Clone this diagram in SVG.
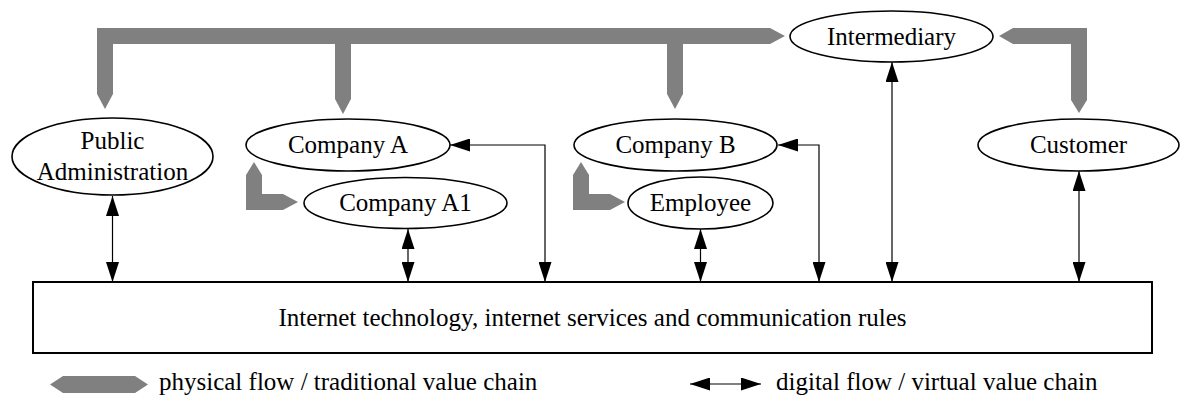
<svg xmlns="http://www.w3.org/2000/svg" width="1180" height="395" viewBox="0 0 1180 395">
<defs>
<marker id="ah" markerUnits="userSpaceOnUse" markerWidth="20" markerHeight="13" refX="20" refY="6.5" orient="auto-start-reverse">
<path d="M0,0 L20,6.5 L0,13 z" fill="#000"/>
</marker>
<style>
.node{fill:#fff;stroke:#000;stroke-width:1.6}
.t{font-family:"Liberation Serif","Times New Roman",serif;font-size:25px;fill:#000;text-anchor:middle}
.lt{font-family:"Liberation Serif","Times New Roman",serif;font-size:25px;fill:#000}
.g{fill:#808080;stroke:none}
.c{fill:none;stroke:#000;stroke-width:1.2;marker-start:url(#ah);marker-end:url(#ah)}
</style>
</defs>
<g id="physical-flows">
<rect class="g" x="97" y="28" width="673" height="16"/>
<polygon class="g" points="770,28 785,36 770,44"/>
<rect class="g" x="97" y="28" width="16" height="66"/>
<polygon class="g" points="97,94 113,94 105,109"/>
<rect class="g" x="335" y="28" width="16" height="71"/>
<polygon class="g" points="335,99 351,99 343,114"/>
<rect class="g" x="667" y="28" width="16" height="66"/>
<polygon class="g" points="667,94 683,94 675,109"/>
<rect class="g" x="1013" y="28" width="74" height="16"/>
<polygon class="g" points="1013,28 1013,44 999,36"/>
<rect class="g" x="1071" y="28" width="16" height="72"/>
<polygon class="g" points="1071,100 1087,100 1079,113"/>
<rect class="g" x="246" y="175" width="16" height="35"/>
<polygon class="g" points="246,175 262,175 254,162"/>
<rect class="g" x="246" y="194" width="37" height="16"/>
<polygon class="g" points="283,194 283,210 298,202"/>
<rect class="g" x="573" y="175" width="16" height="35"/>
<polygon class="g" points="573,175 589,175 581,162"/>
<rect class="g" x="573" y="194" width="37" height="16"/>
<polygon class="g" points="610,194 610,210 625,202"/>
</g>
<g id="connectors">
<line class="c" x1="112.5" y1="196" x2="112.5" y2="282"/>
<line class="c" x1="408" y1="229" x2="408" y2="282"/>
<polyline class="c" points="450,145 545,145 545,282"/>
<line class="c" x1="700.5" y1="229" x2="700.5" y2="282"/>
<polyline class="c" points="778,145 819,145 819,282"/>
<line class="c" x1="892" y1="62" x2="892" y2="282"/>
<line class="c" x1="1079" y1="171" x2="1079" y2="282"/>
</g>
<g id="intermediary">
<ellipse class="node" cx="891.5" cy="36.5" rx="101.5" ry="25.5"/>
<text class="t" x="891.5" y="45">Intermediary</text>
</g>
<g id="public-administration">
<ellipse class="node" cx="112.5" cy="156.5" rx="100.5" ry="38.5"/>
<text class="t" x="112.5" y="149">Public</text>
<text class="t" x="112.5" y="180">Administration</text>
</g>
<g id="company-a">
<ellipse class="node" cx="348" cy="145" rx="102" ry="26"/>
<text class="t" x="348" y="153">Company A</text>
</g>
<g id="company-a1">
<ellipse class="node" cx="405.5" cy="203" rx="101.5" ry="25.5"/>
<text class="t" x="405.5" y="211">Company A1</text>
</g>
<g id="company-b">
<ellipse class="node" cx="675.5" cy="145" rx="101.5" ry="26"/>
<text class="t" x="675.5" y="153">Company B</text>
</g>
<g id="employee">
<ellipse class="node" cx="700.5" cy="203" rx="72.5" ry="26"/>
<text class="t" x="700.5" y="211">Employee</text>
</g>
<g id="customer">
<ellipse class="node" cx="1078.5" cy="145" rx="100.5" ry="26"/>
<text class="t" x="1078.5" y="153">Customer</text>
</g>
<g id="internet">
<rect x="33" y="282" width="1119" height="71" fill="#fff" stroke="#000" stroke-width="2"/>
<text class="t" x="592.5" y="326">Internet technology, internet services and communication rules</text>
</g>
<g id="legend">
<polygon class="g" points="50,384.5 63,376 135,376 148,384.5 135,393 63,393"/>
<text class="lt" x="159" y="390">physical flow / traditional value chain</text>
<line class="c" x1="690" y1="384" x2="761" y2="384"/>
<text class="lt" x="776" y="390">digital flow / virtual value chain</text>
</g>
</svg>
